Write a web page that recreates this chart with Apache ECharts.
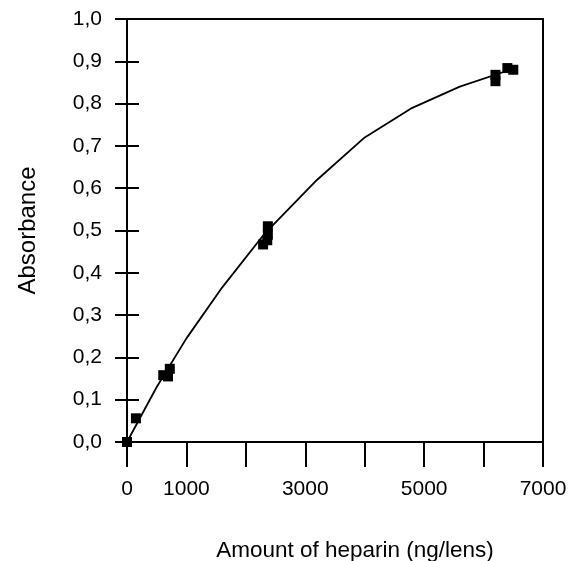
<!DOCTYPE html>
<html>
<head>
<meta charset="utf-8">
<script src="https://cdn.jsdelivr.net/npm/echarts@6/dist/echarts.min.js"></script>
<style>
  html, body { margin: 0; padding: 0; background: #fff; }
  #chart { width: 574px; height: 561px; }
</style>
</head>
<body>
<div id="chart"></div>
<script>
// measured points (ng/lens, absorbance)
const heparinX = [0, 150, 610, 690, 720, 2290, 2360, 2370, 2370, 6200, 6200, 6400, 6500];
const absorbY  = [0.0, 0.056, 0.158, 0.155, 0.173, 0.467, 0.477, 0.49, 0.51, 0.853, 0.868, 0.884, 0.88];

// fitted curve
const curveX = [0, 500, 1000, 1600, 2300, 3200, 4000, 4800, 5600, 6450];
const curveY = [0.0, 0.13, 0.245, 0.365, 0.49, 0.62, 0.72, 0.79, 0.84, 0.88];

const xTickLabels = [0, 1000, 3000, 5000, 7000];

const font = '"Liberation Sans", Arial, sans-serif';

const chart = echarts.init(document.getElementById('chart'));

const yBase = {
    type: 'value',
    min: 0,
    max: 1,
    interval: 0.1,
    splitLine: { show: false },
    axisLine: { show: true, lineStyle: { color: '#000', width: 2 } }
};

const option = {
    animation: false,
    grid: { left: 127, right: 31, top: 19, bottom: 119, outerBoundsMode: 'none' },
    xAxis: [
        {
            type: 'value',
            min: 0,
            max: 7000,
            interval: 1000,
            name: 'Amount of heparin (ng/lens)',
            nameLocation: 'middle',
            nameGap: 97,
            nameTextStyle: { fontFamily: font, fontSize: 22.5, color: '#000', padding: [0, 0, 0, 40] },
            axisLine: { show: true, onZero: false, lineStyle: { color: '#000', width: 2 } },
            axisTick: { show: true, inside: false, length: 25, lineStyle: { color: '#000', width: 2 } },
            axisLabel: {
                margin: 37,
                fontFamily: font,
                fontSize: 21,
                color: '#000',
                formatter: function (v) {
                    return xTickLabels.indexOf(v) >= 0 ? String(v) : '';
                }
            },
            splitLine: { show: false }
        },
        {
            type: 'value',
            position: 'top',
            min: 0,
            max: 7000,
            axisLine: { show: true, onZero: false, lineStyle: { color: '#000', width: 2 } },
            axisTick: { show: false },
            axisLabel: { show: false },
            splitLine: { show: false }
        }
    ],
    yAxis: [
        Object.assign({}, yBase, {
            position: 'left',
            name: 'Absorbance',
            nameLocation: 'middle',
            nameGap: 87,
            nameTextStyle: { fontFamily: font, fontSize: 24, color: '#000' },
            axisTick: { show: true, inside: false, length: 12, lineStyle: { color: '#000', width: 2 } },
            axisLabel: {
                margin: 25,
                fontFamily: font,
                fontSize: 21,
                color: '#000',
                formatter: function (v) {
                    return v.toFixed(1).replace('.', ',');
                }
            }
        }),
        Object.assign({}, yBase, {
            position: 'left',
            axisTick: { show: true, inside: true, length: 12, lineStyle: { color: '#000', width: 2 } },
            axisLabel: { show: false }
        }),
        Object.assign({}, yBase, {
            position: 'right',
            axisTick: { show: false },
            axisLabel: { show: false }
        })
    ],
    series: [
        {
            type: 'line',
            data: curveX.map((x, i) => [x, curveY[i]]),
            showSymbol: false,
            smooth: false,
            lineStyle: { color: '#000', width: 1.8 },
            z: 2
        },
        {
            type: 'scatter',
            data: heparinX.map((x, i) => [x, absorbY[i]]),
            symbol: 'rect',
            symbolSize: 10,
            itemStyle: { color: '#000', opacity: 1 },
            z: 3
        }
    ]
};

chart.setOption(option);
</script>
</body>
</html>
